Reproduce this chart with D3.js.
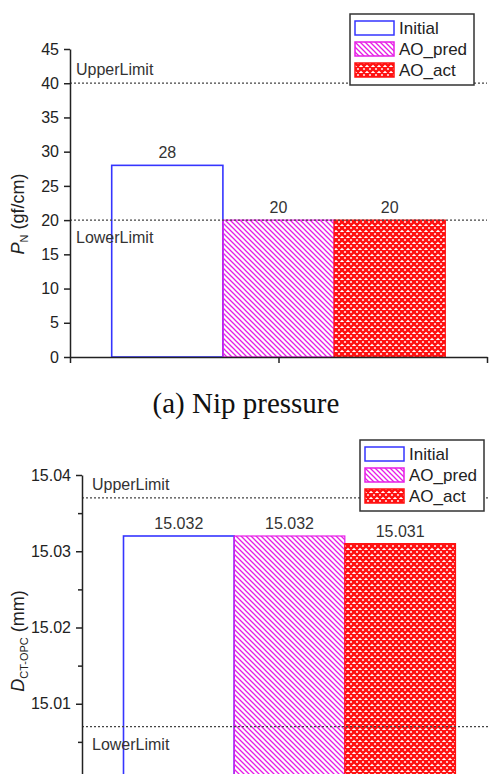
<!DOCTYPE html>
<html>
<head>
<meta charset="utf-8">
<script src="https://cdn.jsdelivr.net/npm/d3@7"></script>
<style>
  body { margin: 0; background: #fff; }
  svg { display: block; font-family: Arial, "Liberation Sans", sans-serif; }
  .axis path, .axis line { stroke: #222; stroke-width: 1.5; }
  .axis text { font-size: 16px; fill: #222; }
</style>
</head>
<body>
<div id="chart"></div>
<script>
// categories / series
const seriesNames = ['Initial', 'AO_pred', 'AO_act'];

// (a) nip pressure
const nipValues = [28, 20, 20];
const nipLimits = { lower: 20, upper: 40 };
const nipTicks = [0, 5, 10, 15, 20, 25, 30, 35, 40, 45];
const nipLabels = ['28', '20', '20'];

// (b) diameter
const diaValues = [15.032, 15.032, 15.031];
const diaLimits = { lower: 15.007, upper: 15.037 };
const diaTicks = [15.0, 15.01, 15.02, 15.03, 15.04];
const diaMinorTicks = [15.005, 15.015, 15.025, 15.035];
const diaLabels = ['15.032', '15.032', '15.031'];

const colors = { Initial: '#3535ff', AO_pred: '#e61ee6', AO_act: '#ff1010' };

const width = 490, height = 774;

const svg = d3.select('#chart')
  .append('svg')
  .attr('width', width)
  .attr('height', height);

const defs = svg.append('defs');

// diagonal hatch for AO_pred
defs.append('pattern')
  .attr('id', 'hatch-pred')
  .attr('patternUnits', 'userSpaceOnUse')
  .attr('width', 5)
  .attr('height', 5)
  .append('path')
  .attr('d', 'M0,0L5,5M-1,4L1,6M4,-1L6,1')
  .attr('stroke', colors.AO_pred)
  .attr('stroke-width', 1.3);

// cross hatch for AO_act
const cross = defs.append('pattern')
  .attr('id', 'hatch-act')
  .attr('patternUnits', 'userSpaceOnUse')
  .attr('width', 6)
  .attr('height', 6);
cross.append('rect').attr('width', 6).attr('height', 6).attr('fill', '#fff');
cross.append('path')
  .attr('d', 'M0,0L6,6M6,0L0,6M-1,5L1,7M5,-1L7,1M-1,1L1,-1M5,7L7,5')
  .attr('stroke', colors.AO_act)
  .attr('stroke-width', 2.5);

const fills = { Initial: '#fff', AO_pred: 'url(#hatch-pred)', AO_act: 'url(#hatch-act)' };

function drawPanel(opts) {
  const g = svg.append('g');

  const x = d3.scaleLinear().domain([0, 1]).range([opts.left, opts.right]);
  const xs = d3.scaleBand()
    .domain(seriesNames)
    .range([x(0.1), x(0.9)])
    .padding(0);
  const y = d3.scaleLinear().domain(opts.domain).range([opts.bottom, opts.top]);

  // bars
  g.append('g')
    .selectAll('rect')
    .data(d3.zip(seriesNames, opts.values))
    .join('rect')
    .attr('x', ([s]) => xs(s))
    .attr('y', ([, v]) => y(v))
    .attr('width', xs.bandwidth())
    .attr('height', ([, v]) => y(opts.domain[0]) - y(v))
    .attr('fill', ([s]) => fills[s])
    .attr('stroke', ([s]) => colors[s])
    .attr('stroke-width', ([s]) => (s === 'Initial' ? 1.6 : 1.2));

  // value labels
  g.append('g')
    .selectAll('text')
    .data(d3.zip(seriesNames, opts.values, opts.labels))
    .join('text')
    .attr('x', ([s]) => xs(s) + xs.bandwidth() / 2)
    .attr('y', ([, v]) => y(v) - 7)
    .attr('text-anchor', 'middle')
    .style('font-size', '16px')
    .style('fill', '#333')
    .text(([, , t]) => t);

  // limit lines
  const limits = [
    { name: 'UpperLimit', value: opts.limits.upper, dy: -8 },
    { name: 'LowerLimit', value: opts.limits.lower, dy: 23 }
  ];
  g.append('g')
    .selectAll('line')
    .data(limits)
    .join('line')
    .attr('x1', opts.left)
    .attr('x2', opts.lineEnd)
    .attr('y1', (d) => y(d.value))
    .attr('y2', (d) => y(d.value))
    .attr('stroke', '#444')
    .attr('stroke-width', 1.2)
    .attr('stroke-dasharray', '2,2');

  g.append('g')
    .selectAll('text')
    .data(limits)
    .join('text')
    .attr('x', opts.left + opts.limitDx)
    .attr('y', (d) => y(d.value) + d.dy)
    .style('font-size', '16px')
    .style('fill', '#333')
    .text((d) => d.name);

  // y axis
  g.append('g')
    .attr('class', 'axis')
    .attr('transform', `translate(${opts.left},0)`)
    .call(
      d3.axisLeft(y)
        .tickValues(opts.ticks)
        .tickFormat(opts.format)
        .tickSize(6)
        .tickSizeOuter(0)
        .tickPadding(5)
    );

  if (opts.minorTicks) {
    g.append('g')
      .attr('class', 'axis')
      .attr('transform', `translate(${opts.left},0)`)
      .call(
        d3.axisLeft(y)
          .tickValues(opts.minorTicks)
          .tickFormat('')
          .tickSize(4)
          .tickSizeOuter(0)
      )
      .select('.domain')
      .remove();
  }

  // x axis
  g.append('g')
    .attr('class', 'axis')
    .attr('transform', `translate(0,${opts.bottom})`)
    .call(
      d3.axisBottom(x)
        .tickValues([0, 0.5, 1])
        .tickFormat('')
        .tickSize(6)
        .tickSizeOuter(0)
    );

  // y label
  const yl = g.append('text')
    .attr('transform', `translate(${opts.labelX},${opts.labelY}) rotate(-90)`)
    .attr('text-anchor', 'middle')
    .style('font-size', '18px')
    .style('fill', '#222');
  yl.append('tspan').style('font-style', 'italic').text(opts.yVar);
  yl.append('tspan')
    .attr('dy', 4)
    .style('font-size', '11px')
    .text(opts.ySub);
  yl.append('tspan').attr('dy', -4).text(' ' + opts.yUnit);

  // legend
  const lg = g.append('g').attr('transform', `translate(${opts.legend[0]},${opts.legend[1]})`);
  lg.append('rect')
    .attr('width', 124)
    .attr('height', 71)
    .attr('fill', '#fff')
    .attr('stroke', '#333')
    .attr('stroke-width', 1.5);
  const items = lg.selectAll('g')
    .data(seriesNames)
    .join('g')
    .attr('transform', (d, i) => `translate(5,${7 + i * 21})`);
  items.append('rect')
    .attr('width', 39)
    .attr('height', 14)
    .attr('fill', (d) => fills[d])
    .attr('stroke', (d) => colors[d])
    .attr('stroke-width', 1.5);
  items.append('text')
    .attr('x', 44)
    .attr('y', 13)
    .style('font-size', '17px')
    .style('fill', '#222')
    .text((d) => d);

  // caption
  if (opts.caption) {
    g.append('text')
      .attr('x', opts.caption[0])
      .attr('y', opts.caption[1])
      .attr('text-anchor', 'middle')
      .style('font-family', '"Liberation Serif", "Times New Roman", serif')
      .style('font-size', '29px')
      .style('fill', '#111')
      .text(opts.caption[2]);
  }
}

drawPanel({
  values: nipValues,
  labels: nipLabels,
  limits: nipLimits,
  ticks: nipTicks,
  format: d3.format('d'),
  domain: [0, 45],
  left: 70,
  right: 487,
  lineEnd: 487,
  top: 49,
  bottom: 357,
  limitDx: 6,
  labelX: 24,
  labelY: 214,
  yVar: 'P',
  ySub: 'N',
  yUnit: '(gf/cm)',
  legend: [350, 14],
  caption: [246, 413, '(a) Nip pressure']
});

drawPanel({
  values: diaValues,
  labels: diaLabels,
  limits: diaLimits,
  ticks: diaTicks,
  minorTicks: diaMinorTicks,
  format: d3.format('.2f'),
  domain: [15.0, 15.04],
  left: 82,
  right: 497,
  lineEnd: 497,
  top: 475,
  bottom: 780,
  limitDx: 10,
  labelX: 24,
  labelY: 641,
  yVar: 'D',
  ySub: 'CT-OPC',
  yUnit: '(mm)',
  legend: [360, 440]
});
</script>
</body>
</html>
